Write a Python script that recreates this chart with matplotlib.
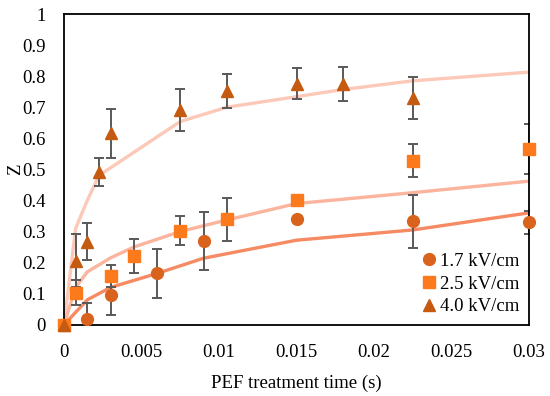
import matplotlib
matplotlib.use("Agg")
import matplotlib.pyplot as plt

plt.rcParams['font.family'] = ['Liberation Serif', 'DejaVu Serif']

#------ measured points -------------------------------------------------------
t_17 = [0, 0.0015, 0.003, 0.006, 0.009, 0.015, 0.0225, 0.03]
z_17 = [0, 0.02, 0.096, 0.165, 0.27, 0.34, 0.333, 0.33]
e_17 = [0, 0.05, 0.065, 0.078, 0.094, 0, 0.085, 0.037]

t_25 = [0, 0.00075, 0.003, 0.0045, 0.0075, 0.0105, 0.015, 0.0225, 0.03]
z_25 = [0, 0.103, 0.157, 0.221, 0.303, 0.339, 0.40, 0.528, 0.566]
e_25 = [0, 0.04, 0.035, 0.054, 0.047, 0.07, 0, 0.054, 0.08]

t_40 = [0, 0.00075, 0.0015, 0.00225, 0.003, 0.0075, 0.0105, 0.015, 0.018, 0.0225]
z_40 = [0, 0.206, 0.267, 0.493, 0.616, 0.691, 0.753, 0.775, 0.775, 0.729]
e_40 = [0, 0.085, 0.06, 0.045, 0.078, 0.068, 0.055, 0.05, 0.055, 0.067]

#------ model curves ----------------------------------------------------------
ft_17 = [0, 0.0015, 0.003, 0.006, 0.009, 0.015, 0.0225, 0.03]
fz_17 = [0, 0.08, 0.12, 0.165, 0.214, 0.272, 0.305, 0.36]

ft_25 = [0, 0.00075, 0.0015, 0.003, 0.0045, 0.0075, 0.0105, 0.015, 0.0225, 0.03]
fz_25 = [0, 0.12, 0.17, 0.215, 0.25, 0.30, 0.337, 0.39, 0.425, 0.462]

ft_40 = [0, 0.00075, 0.0015, 0.00225, 0.003, 0.0075, 0.0105, 0.015, 0.018, 0.0225, 0.03]
fz_40 = [0, 0.31, 0.40, 0.48, 0.505, 0.654, 0.70, 0.734, 0.757, 0.785, 0.813]

labels = ["1.7 kV/cm", "2.5 kV/cm", "4.0 kV/cm"]
xticks = [0, 0.005, 0.01, 0.015, 0.02, 0.025, 0.03]
xticklabels = ["0", "0.005", "0.01", "0.015", "0.02", "0.025", "0.03"]
yticks = [0, 0.1, 0.2, 0.3, 0.4, 0.5, 0.6, 0.7, 0.8, 0.9, 1]
yticklabels = ["0", "0.1", "0.2", "0.3", "0.4", "0.5", "0.6", "0.7", "0.8", "0.9", "1"]

fig = plt.figure(figsize=(5.5, 3.96), dpi=100)
ax = fig.add_axes([0.1164, 0.18, 0.8454, 0.7846])

# fitted lines
ax.plot(ft_40, fz_40, c="#fcc8b8", lw=2.4, zorder=1)
ax.plot(ft_25, fz_25, c="#fbb49e", lw=2.4, zorder=1)
ax.plot(ft_17, fz_17, c="#f58a63", lw=2.4, zorder=1)

# error bars
for t, z, e in [(t_17, z_17, e_17), (t_25, z_25, e_25), (t_40, z_40, e_40)]:
    ax.errorbar(t, z, yerr=e, fmt="none", ecolor="#595959", elinewidth=1.4,
                capsize=3.8, capthick=1.4, zorder=2)

ax.plot(t_17, z_17, "o", ms=8.5, c="#d9621c", mec="#d9621c", label=labels[0], zorder=3, clip_on=False)
ax.plot(t_25, z_25, "s", ms=8, c="#fd7a1c", mec="#fd7a1c", label=labels[1], zorder=3, clip_on=False)
ax.plot(t_40, z_40, "^", ms=9, c="#c55a11", mec="#c55a11", label=labels[2], zorder=3, clip_on=False)

ax.set_xlim(0, 0.03)
ax.set_ylim(0, 1)
ax.set_xticks(xticks)
ax.set_xticklabels(xticklabels, fontsize=13.5)
ax.set_yticks(yticks)
ax.set_yticklabels(yticklabels, fontsize=13.5)
ax.tick_params(axis="x", length=0, pad=14)
ax.tick_params(axis="y", length=0, pad=13)
for s in ax.spines.values():
    s.set_linewidth(1.3)
    s.set_color("black")

ax.set_xlabel("PEF treatment time (s)", fontsize=13.5, labelpad=10)
ax.set_ylabel("Z", fontsize=13.5, labelpad=-1)

ax.legend(loc="lower right", frameon=False, fontsize=13.5, handletextpad=0.0,
          handlelength=1.2, labelspacing=0.3, borderaxespad=0.3,
          borderpad=0.2)

fig.savefig("out.png", dpi=100)
